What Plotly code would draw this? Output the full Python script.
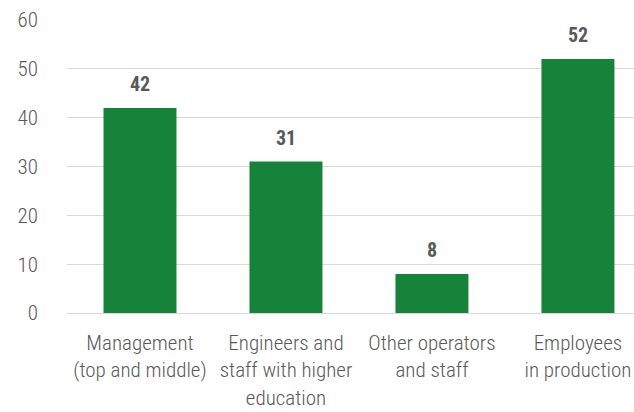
import plotly.graph_objects as go

categories = ["Management<br>(top and middle)", "Engineers and<br>staff with higher<br>education",
              "Other operators<br>and staff", "Employees<br>in production"]
values = [42, 31, 8, 52]
y_ticks = [0, 10, 20, 30, 40, 50, 60]

BAR = "#17833a"
GRAY = "#595959"
FONT = "Roboto Condensed Light, Roboto Condensed, Liberation Sans Narrow, Roboto, sans-serif"

fig = go.Figure(go.Bar(
    x=list(range(len(categories))), y=values,
    marker=dict(color=BAR, line=dict(width=0)),
    width=0.5,
))

for i, v in enumerate(values):
    fig.add_annotation(x=i, y=v, text=str(v), showarrow=False, yanchor="bottom", yshift=10,
                       font=dict(family="Roboto Condensed, Roboto, sans-serif", size=20,
                                 color=GRAY, weight=700))

fig.update_layout(
    width=634, height=412,
    margin=dict(l=67, r=0, t=20, b=99, autoexpand=False),
    plot_bgcolor="white", paper_bgcolor="white",
    showlegend=False,
    font=dict(family=FONT, size=21, color=GRAY, weight=300),
    xaxis=dict(range=[-0.5, 3.384], tickmode="array", tickvals=list(range(len(categories))),
               ticktext=categories, showgrid=False, zeroline=False, showline=False,
               ticks="", automargin=False, ticklabelstandoff=15,
               tickfont=dict(size=21, color=GRAY, weight=300)),
    yaxis=dict(range=[0, 60], tickvals=y_ticks, showgrid=True, gridcolor="#d9d9d9", gridwidth=1.3,
               zeroline=True, zerolinecolor="#d9d9d9", zerolinewidth=1.3, showline=False,
               ticks="", automargin=False, ticklabelstandoff=28,
               tickfont=dict(size=21, color=GRAY, weight=300)),
)

# remove the page's default body margin so the 634x412 figure fills the window exactly
fig.write_html("out.html", config={"displayModeBar": False},
               post_script="document.body.style.margin='0';document.body.style.overflow='hidden';")
